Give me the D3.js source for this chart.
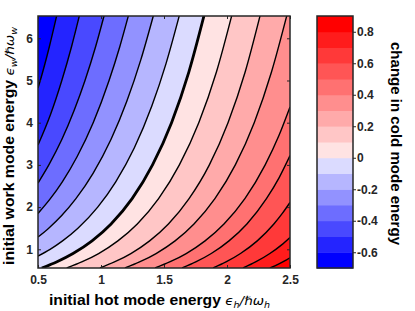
<!DOCTYPE html>
<html><head><meta charset="utf-8">
<script src="https://cdn.jsdelivr.net/npm/d3@7/dist/d3.min.js"></script>
<style>body{margin:0;background:#fff}svg{display:block}</style>
</head><body>
<svg id="chart" width="415" height="311"></svg>
<script>
// ---- data ----
const levels = [-0.6,-0.5,-0.4,-0.3,-0.2,-0.1,0,0.1,0.2,0.3,0.4,0.5,0.6,0.7,0.8];
// contour lines as [eps_h, eps_w] points
const cM06 = [[0.5,4.82],[0.518,5.0],[0.59,5.8],[0.648,6.53]];
const cM05 = [[0.5,3.47],[0.6,4.2],[0.689,5.0],[0.766,5.8],[0.828,6.53]];
const cM04 = [[0.5,2.57],[0.586,3.0],[0.689,3.6],[0.788,4.3],[0.873,5.0],[0.957,5.8],[1.024,6.53]];
const cM03 = [[0.5,1.85],[0.598,2.2],[0.693,2.6],[0.811,3.2],[0.938,4.0],[1.064,5.0],[1.149,5.8],[1.217,6.53]];
const cM02 = [[0.5,1.29],[0.585,1.5],[0.688,1.8],[0.801,2.2],[0.937,2.8],[1.079,3.6],[1.204,4.5],[1.317,5.5],[1.415,6.53]];
const cM01 = [[0.5,0.84],[0.596,1.0],[0.695,1.2],[0.817,1.5],[0.974,2.0],[1.117,2.6],[1.264,3.4],[1.404,4.4],[1.516,5.4],[1.621,6.53]];
const c0   = [[0.53,0.557],[0.647,0.7],[0.778,0.9],[0.929,1.2],[1.080,1.6],[1.247,2.2],[1.409,3.0],[1.560,4.0],[1.697,5.2],[1.817,6.53]];
const cP01 = [[0.728,0.557],[0.847,0.7],[0.981,0.9],[1.134,1.2],[1.288,1.6],[1.457,2.2],[1.622,3.0],[1.776,4.0],[1.916,5.2],[2.037,6.53]];
const cP02 = [[0.992,0.557],[1.107,0.7],[1.237,0.9],[1.386,1.2],[1.535,1.6],[1.699,2.2],[1.860,3.0],[2.008,4.0],[2.144,5.2],[2.262,6.53]];
const cP03 = [[1.19,0.557],[1.306,0.7],[1.437,0.9],[1.588,1.2],[1.738,1.6],[1.904,2.2],[2.066,3.0],[2.216,4.0],[2.353,5.2],[2.474,6.53]];
const cP04 = [[1.429,0.557],[1.545,0.7],[1.676,0.9],[1.826,1.2],[1.976,1.6],[2.142,2.2],[2.303,3.0],[2.413,3.7],[2.5,4.37]];
const cP05 = [[1.643,0.557],[1.752,0.7],[1.875,0.9],[2.016,1.2],[2.158,1.6],[2.313,2.2],[2.414,2.7],[2.5,3.22]];
const cP06 = [[1.889,0.557],[1.992,0.7],[2.107,0.9],[2.240,1.2],[2.372,1.6],[2.439,1.85],[2.5,2.11]];
const cP07 = [[2.127,0.557],[2.227,0.7],[2.340,0.9],[2.431,1.1],[2.5,1.28]];
const cP08 = [[2.341,0.557],[2.408,0.65],[2.454,0.72],[2.5,0.80]];
const xTicks = [0.5,1,1.5,2,2.5];
const yTicks = [1,2,3,4,5,6];
const cbTicks = [-0.6,-0.4,-0.2,0,0.2,0.4,0.6,0.8];
const xDomain = [0.5,2.5];
const yDomain = [0.557,6.528];
const cbDomain = [-0.7,0.9];

// ---- drawing ----
const contourLines = [cM06,cM05,cM04,cM03,cM02,cM01,c0,cP01,cP02,cP03,cP04,cP05,cP06,cP07,cP08];
const svg = d3.select("#chart");
const FONT = "'Liberation Sans', Arial, Helvetica, sans-serif";
const L = 38, R = 290, T = 16, B = 268;
const x = d3.scaleLinear().domain(xDomain).range([L, R]);
const y = d3.scaleLinear().domain(yDomain).range([B, T]);
const cs = d3.scaleLinear().domain([cbDomain[0], 0, cbDomain[1]]).range(["#0000ff", "#ffffff", "#ff0000"]);
const bandColor = lv => lv < -1e-9 ? cs(lv) : cs(lv + 0.1);

svg.append("defs").append("clipPath").attr("id", "pc")
  .append("rect").attr("x", L).attr("y", T).attr("width", R - L).attr("height", B - T);

const gPlot = svg.append("g").attr("clip-path", "url(#pc)");
gPlot.append("rect").attr("x", L).attr("y", T).attr("width", R - L).attr("height", B - T)
  .attr("fill", cs(cbDomain[0]));

const line = d3.line().x(d => x(d[0])).y(d => y(d[1])).curve(d3.curveMonotoneX);
const tail = `L${R + 30},${T - 30}L${R + 30},${B + 30}L${L - 30},${B + 30}Z`;

levels.forEach((lv, i) => {
  gPlot.append("path").attr("d", line(contourLines[i]) + tail)
    .attr("fill", bandColor(lv)).attr("stroke", "none");
});
levels.forEach((lv, i) => {
  gPlot.append("path").attr("d", line(contourLines[i]))
    .attr("fill", "none").attr("stroke", "#000")
    .attr("stroke-width", Math.abs(lv) < 1e-9 ? 2.8 : 1.4);
});

// axes
function styleAxis(g) {
  g.select(".domain").remove();
  g.selectAll("line").attr("stroke", "#262626");
  g.selectAll("text").attr("fill", "#262626").style("font-family", FONT)
    .style("font-size", "12px").style("font-weight", "bold");
}
svg.append("g").attr("transform", `translate(0,${B})`)
  .call(d3.axisBottom(x).tickValues(xTicks).tickFormat(d => String(d)).tickSizeInner(-3).tickSizeOuter(0).tickPadding(7.5))
  .call(styleAxis);
svg.append("g").attr("transform", `translate(0,${T})`)
  .call(d3.axisTop(x).tickValues(xTicks).tickFormat("").tickSizeInner(-3).tickSizeOuter(0))
  .call(styleAxis);
svg.append("g").attr("transform", `translate(${L},0)`)
  .call(d3.axisLeft(y).tickValues(yTicks).tickFormat(d => String(d)).tickSizeInner(-3).tickSizeOuter(0).tickPadding(5))
  .call(styleAxis);
svg.append("g").attr("transform", `translate(${R},0)`)
  .call(d3.axisRight(y).tickValues(yTicks).tickFormat("").tickSizeInner(-3).tickSizeOuter(0))
  .call(styleAxis);

svg.append("rect").attr("x", L).attr("y", T).attr("width", R - L).attr("height", B - T)
  .attr("fill", "none").attr("stroke", "#262626").attr("stroke-width", 1.5);

// colorbar
const CL = 317, CR = 353;
const cy = d3.scaleLinear().domain(cbDomain).range([B, T]);
const bandStarts = [cbDomain[0]].concat(levels);
svg.append("g").selectAll("rect").data(bandStarts).join("rect")
  .attr("x", CL).attr("width", CR - CL)
  .attr("y", d => cy(Math.min(d + 0.1, cbDomain[1])))
  .attr("height", d => cy(d) - cy(Math.min(d + 0.1, cbDomain[1])) + 0.5)
  .attr("fill", d => bandColor(d));
svg.append("g").attr("transform", `translate(${CR},0)`)
  .call(d3.axisRight(cy).tickValues(cbTicks).tickFormat(d => String(d)).tickSizeInner(3).tickSizeOuter(0).tickPadding(1))
  .call(styleAxis);
svg.append("rect").attr("x", CL).attr("y", T).attr("width", CR - CL).attr("height", B - T)
  .attr("fill", "none").attr("stroke", "#262626").attr("stroke-width", 1.5);

// labels
function mathLabel(t, sub) {
  const m = t.append("tspan").style("font-weight", "normal").style("font-style", "italic")
    .style("font-family", "'DejaVu Sans', sans-serif").style("font-size", "12px");
  m.append("tspan").text("\u03F5");
  m.append("tspan").attr("dy", 2.5).style("font-size", "8.5px").text(sub);
  m.append("tspan").attr("dy", -2.5).text("/\u210F\u03C9");
  m.append("tspan").attr("dy", 2.5).style("font-size", "8.5px").text(sub);
}
function fitLabel(t, len) {
  const w = t.node().getComputedTextLength();
  if (w > 0) t.attr("textLength", len).attr("lengthAdjust", "spacingAndGlyphs");
}
const xl = svg.append("text").attr("x", 49).attr("y", 305).attr("text-anchor", "start")
  .attr("fill", "#000").style("font-family", FONT).style("font-size", "14px").style("font-weight", "bold");
xl.append("tspan").text("initial hot mode energy ");
mathLabel(xl, "h");
fitLabel(xl, 221);

const yl = svg.append("text").attr("transform", "translate(14,265) rotate(-90)").attr("text-anchor", "start")
  .attr("fill", "#000").style("font-family", FONT).style("font-size", "14px").style("font-weight", "bold");
yl.append("tspan").text("initial work mode energy ");
mathLabel(yl, "w");
fitLabel(yl, 238);

const cl = svg.append("text").attr("transform", "translate(391,42) rotate(90)").attr("text-anchor", "start")
  .attr("fill", "#000").style("font-family", FONT).style("font-size", "14px").style("font-weight", "bold")
  .text("change in cold mode energy");
fitLabel(cl, 203);
</script>
</body></html>
